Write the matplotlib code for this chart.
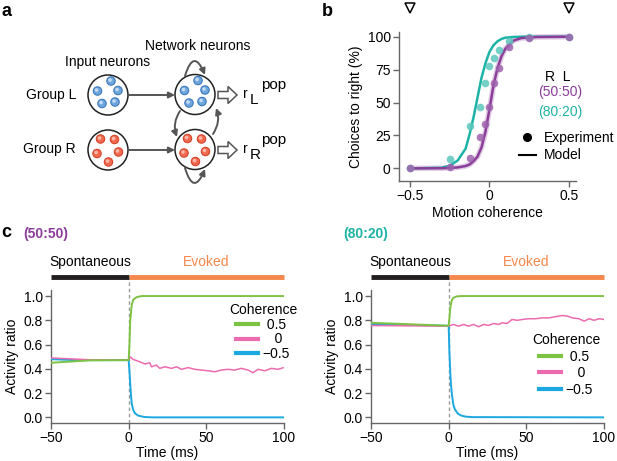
import matplotlib
matplotlib.use("Agg")
import matplotlib.pyplot as plt
from matplotlib.patches import Circle, FancyArrow, FancyArrowPatch
from matplotlib.lines import Line2D

plt.rcParams['font.family'] = ['Liberation Sans', 'DejaVu Sans']
plt.rcParams['font.size'] = 10

# ---- panel b data: psychometric curves ----
coh_exp = [-0.5, -0.25, -0.125, -0.0625, -0.03125, 0, 0.03125, 0.0625, 0.125, 0.25, 0.5]
exp_5050 = [0, 1, 7.6, 24, 34, 47, 65, 76, 92, 99, 100]
exp_8020 = [0, 7, 32, 47, 65, 78, 83.5, 90, 97, 100, 100]
coh_model = [-0.5, -0.3, -0.25, -0.2, -0.15, -0.125, -0.1, -0.075, -0.05, -0.025,
             0, 0.025, 0.05, 0.075, 0.1, 0.15, 0.2, 0.3, 0.5]
model_5050 = [0, 0.1, 0.3, 0.7, 1.8, 3, 5.5, 9, 16, 28,
              45, 63, 76, 85, 91, 97, 99, 99.8, 100]
model_8020 = [0, 0.5, 2, 6, 15, 26, 39, 54, 69, 80,
              88.5, 93.5, 96.5, 98.3, 99.3, 99.8, 100, 100, 100]

# ---- panel c data: activity ratio over time ----
# (50:50)
tg_L = [-50, -25, 0, 0.5, 1, 2, 3, 5, 8, 100]
green_L = [0.45, 0.47, 0.472, 0.6, 0.8, 0.93, 0.97, 0.99, 1.0, 1.0]
tb_L = [-50, -35, 0, 0.5, 1, 1.5, 2, 3, 4, 6, 10, 15, 100]
blue_L = [0.48, 0.472, 0.472, 0.38, 0.28, 0.18, 0.11, 0.06, 0.035, 0.015, 0.003, 0, 0]
tp_L = [-50, -25, 0, 0.8, 2.9, 7.2, 10.4, 13.6, 14.7, 17.9, 20, 23.3, 27.6, 30.8, 34,
        38.3, 42.6, 46.9, 51.1, 55.4, 59.7, 64, 68.3, 72.6, 76.9, 80, 83.3, 87.6,
        91.9, 96.1, 99.4]
pink_L = [0.49, 0.475, 0.472, 0.50, 0.478, 0.458, 0.44, 0.45, 0.417, 0.431, 0.404,
          0.417, 0.404, 0.417, 0.396, 0.41, 0.396, 0.39, 0.384, 0.376, 0.39, 0.396,
          0.39, 0.404, 0.39, 0.368, 0.396, 0.384, 0.404, 0.396, 0.409]
# (80:20)
tg_R = [-50, 0, 0.5, 1, 2, 3, 5, 8, 100]
green_R = [0.78, 0.755, 0.82, 0.9, 0.965, 0.985, 0.997, 1.0, 1.0]
tb_R = [-50, 0, 0.5, 1, 1.5, 2, 3, 4, 6, 8, 11, 15, 100]
blue_R = [0.77, 0.755, 0.53, 0.38, 0.27, 0.2, 0.105, 0.065, 0.03, 0.015, 0.006, 0.002, 0]
tp_R = [-50, 0, 1, 3.1, 6.4, 9.6, 12.8, 16, 19.3, 22.5, 25.7, 29, 32.2, 34.4, 37.6,
        40.8, 44.1, 47.3, 51.6, 55.9, 60.2, 64.5, 68.8, 73.1, 76.4, 79.6, 83.9,
        87.2, 90.4, 93.6, 96.9, 100]
pink_R = [0.757, 0.752, 0.758, 0.766, 0.752, 0.766, 0.752, 0.766, 0.747, 0.766,
          0.758, 0.774, 0.766, 0.78, 0.774, 0.807, 0.80, 0.807, 0.813, 0.813, 0.82,
          0.82, 0.83, 0.84, 0.835, 0.82, 0.813, 0.793, 0.813, 0.80, 0.813, 0.807]

# labels padded so they sit centred like the original legend
coh_labels = [' 0.5', '   0', '\u22120.5']

PURPLE = '#8B3D99'
TEAL = '#1DB3A6'
GREEN = '#7DC242'
PINK = '#EC6BAF'
BLUE = '#1BA8E0'
ORANGE = '#F4874B'
GRAY = '#555555'

W, H = 617, 461
fig = plt.figure(figsize=(W / 100, H / 100), dpi=100)


def fx(px):
    return px / W


def fy(py):
    return 1 - py / H


def style_axes(ax):
    for s in ['top', 'right']:
        ax.spines[s].set_visible(False)
    for s in ['left', 'bottom']:
        ax.spines[s].set_color('#666666')
        ax.spines[s].set_linewidth(1.0)
    ax.tick_params(direction='out', length=4, width=1, color='#666666', labelsize=10, pad=2)


# ================= panel a: network diagram =================
axa = fig.add_axes([0, fy(200), fx(300), 200 / H])
axa.set_xlim(0, 300)
axa.set_ylim(200, 0)
axa.axis('off')

dot_offsets = [(3, -14), (-10.5, -4), (10, -4.5), (-6, 8.5), (7, 7)]
dot_offsets_r = [(-7.5, -11), (6.5, -10.5), (-11, 3.5), (10.5, 2), (0.5, 12)]


def draw_group(cx, cy, offs, face, edge, hi):
    axa.add_patch(Circle((cx, cy), 20, fc='white', ec='#222222', lw=1.1))
    for dx, dy in offs:
        axa.add_patch(Circle((cx + dx, cy + dy), 4.2, fc=face, ec=edge, lw=0.8))
        axa.add_patch(Circle((cx + dx - 1, cy + dy - 1), 1.8, fc=hi, ec='none'))


draw_group(108, 95, dot_offsets, '#6FA6DC', '#3B78BF', '#C4DCF3')
draw_group(195, 94.5, dot_offsets, '#6FA6DC', '#3B78BF', '#C4DCF3')
draw_group(108, 150, dot_offsets_r, '#F26A4F', '#D4432A', '#FAB9A8')
draw_group(195, 149.5, dot_offsets_r, '#F26A4F', '#D4432A', '#FAB9A8')

arr_kw = dict(arrowstyle='-|>', mutation_scale=9, color=GRAY, lw=1.4, shrinkA=0, shrinkB=0)
axa.add_patch(FancyArrowPatch((128.5, 95), (175, 95), **arr_kw))
axa.add_patch(FancyArrowPatch((128.5, 150), (175, 150), **arr_kw))
axa.add_patch(FancyArrowPatch((180, 111), (177, 137), connectionstyle='arc3,rad=0.25', **arr_kw))
axa.add_patch(FancyArrowPatch((213, 134), (216, 108), connectionstyle='arc3,rad=0.25', **arr_kw))
axa.add_patch(FancyArrowPatch((185, 76), (205, 75), connectionstyle='arc3,rad=-1.4', **arr_kw))
axa.add_patch(FancyArrowPatch((185, 168), (205, 169), connectionstyle='arc3,rad=1.4', **arr_kw))

for yy in (95, 150):
    axa.add_patch(FancyArrow(218, yy, 19, 0, width=7, head_width=17, head_length=9,
                             length_includes_head=True, fc='white', ec=GRAY, lw=1.1))
    sub = 'L' if yy == 95 else 'R'
    axa.text(243, yy - 1, 'r', fontsize=10, va='center', ha='left')
    axa.text(250, yy + 5, sub, fontsize=11, va='center', ha='left')
    axa.text(261, yy - 10, 'pop', fontsize=11, va='center', ha='left')

axa.text(198, 46, 'Network neurons', fontsize=10, ha='center', va='center')
axa.text(108, 62, 'Input neurons', fontsize=10, ha='center', va='center')
axa.text(76, 95, 'Group L', fontsize=10, ha='right', va='center')
axa.text(76, 149, 'Group R', fontsize=10, ha='right', va='center')

# ================= panel b: psychometric =================
axb = fig.add_axes([fx(399), fy(181), fx(576) - fx(399), (181 - 32) / H])
style_axes(axb)
axb.set_xlim(-0.569, 0.544)
axb.set_ylim(-9.6, 103.6)
axb.plot(coh_model, model_5050, color=PURPLE, lw=4, alpha=0.25, solid_capstyle='round')
axb.plot(coh_model, model_8020, color=TEAL, lw=1.8)
axb.plot(coh_model, model_5050, color=PURPLE, lw=1.8)
axb.plot(coh_exp, exp_8020, 'o', color='#5CC7BD', ms=5.5, alpha=0.85, mec='none', clip_on=False)
axb.plot(coh_exp, exp_5050, 'o', color='#9E62AE', ms=5.5, alpha=0.85, mec='none', clip_on=False)
axb.plot([-0.5, 0.5], [121.8, 121.8], 'v', ms=7, mfc='white', mec='black', mew=1.1,
         clip_on=False, ls='none')
axb.set_xticks([-0.5, 0, 0.5])
axb.set_xticklabels(['\u22120.5', '0', '0.5'])
axb.set_yticks([0, 25, 50, 75, 100])
axb.set_xlabel('Motion coherence', fontsize=10, labelpad=2)
axb.set_ylabel('Choices to right (%)', fontsize=10, labelpad=3)

fig.text(fx(558), fy(77), 'R  L', fontsize=10, ha='center', va='center')
fig.text(fx(560), fy(92), '(50:50)', fontsize=10, ha='center', va='center', color=PURPLE)
fig.text(fx(560), fy(112), '(80:20)', fontsize=10, ha='center', va='center', color=TEAL)
hb = [Line2D([], [], marker='o', ls='none', color='black', ms=5.5),
      Line2D([], [], color='black', lw=1.5)]
fig.legend(hb, ['Experiment', 'Model'], loc='upper left', frameon=False,
           bbox_to_anchor=(fx(519), fy(131)), bbox_transform=fig.transFigure,
           fontsize=10, handlelength=1.2, handletextpad=0.6, labelspacing=0.25,
           borderpad=0, borderaxespad=0)


# ================= panel c =================
def activity_panel(left_px, label, label_color, tg, g, tb, b, tp, p, leg_xy, spacing):
    ax = fig.add_axes([fx(left_px), fy(422.7), 233 / W, (422.7 - 290) / H])
    style_axes(ax)
    ax.set_xlim(-50, 100)
    ax.set_ylim(-0.044, 1.05)
    ax.plot([0, 0], [-0.044, 1.16], color='#999999', lw=1, ls=(0, (2.5, 2)),
            clip_on=False, zorder=1)
    ax.plot([-50, 0], [1.16, 1.16], color='#231F20', lw=3.5, solid_capstyle='butt', clip_on=False)
    ax.plot([0, 100], [1.16, 1.16], color=ORANGE, lw=3.5, solid_capstyle='butt', clip_on=False)
    ax.text(-25, 1.28, 'Spontaneous', ha='center', va='center', fontsize=10)
    ax.text(50, 1.28, 'Evoked', ha='center', va='center', fontsize=10, color=ORANGE)
    ax.plot(tb, b, color=BLUE, lw=1.4, zorder=3)
    ax.plot(tp, p, color=PINK, lw=1.1, zorder=3)
    ax.plot(tg, g, color=GREEN, lw=1.4, zorder=4)
    ax.set_xticks([-50, 0, 50, 100])
    ax.set_yticks([0, 0.2, 0.4, 0.6, 0.8, 1.0])
    ax.set_yticklabels(['0.0', '0.2', '0.4', '0.6', '0.8', '1.0'])
    ax.set_xlabel('Time (ms)', fontsize=10, labelpad=1)
    ax.set_ylabel('Activity ratio', fontsize=10, labelpad=3)
    hs = [Line2D([], [], color=GREEN, lw=3), Line2D([], [], color=PINK, lw=3),
          Line2D([], [], color=BLUE, lw=3)]
    ax.legend(hs, coh_labels, title='Coherence', loc='upper left', frameon=False,
              bbox_to_anchor=(fx(leg_xy[0]), fy(leg_xy[1])), bbox_transform=fig.transFigure,
              fontsize=10, title_fontsize=10, handlelength=1.6, handletextpad=0.3,
              labelspacing=spacing, borderpad=0, borderaxespad=0)
    fig.text(fx(left_px - 28), fy(234), label, color=label_color, fontsize=10,
             fontweight='bold', ha='left', va='center')
    return ax


activity_panel(51, '(50:50)', PURPLE, tg_L, green_L, tb_L, blue_L, tp_L, pink_L, (229, 303), 0.05)
activity_panel(371, '(80:20)', TEAL, tg_R, green_R, tb_R, blue_R, tp_R, pink_R, (532, 333), 0.18)

fig.text(fx(1), fy(12), 'a', fontsize=13, fontweight='bold', ha='left', va='center')
fig.text(fx(322), fy(12), 'b', fontsize=13, fontweight='bold', ha='left', va='center')
fig.text(fx(1), fy(232), 'c', fontsize=13, fontweight='bold', ha='left', va='center')

fig.savefig('out.png', dpi=100)
